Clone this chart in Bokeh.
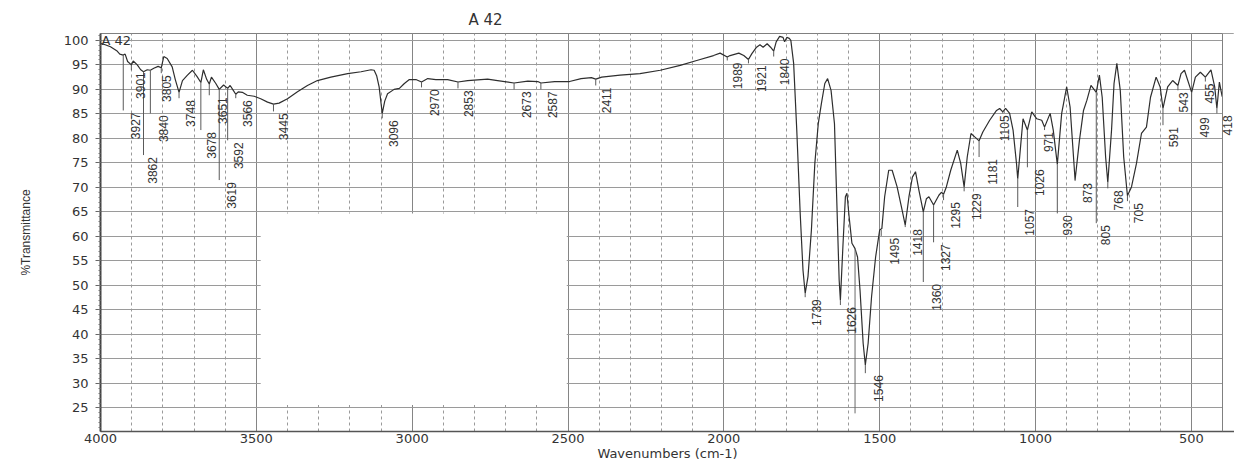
from math import pi
from bokeh.plotting import figure
from bokeh.models import (ColumnDataSource, LabelSet, Label, Range1d, Span,
                          SingleIntervalTicker)
from bokeh.core.properties import value, field
from bokeh.embed import file_html
from bokeh.resources import INLINE

# ---------------- data ----------------
wavenumber = [
    4000, 3985, 3968, 3948, 3938, 3927, 3921, 3913, 3901, 3895, 3882, 3871,
    3862, 3850, 3840, 3829, 3815, 3805, 3797, 3786, 3770, 3760, 3748, 3737,
    3721, 3705, 3690, 3678, 3670, 3659, 3651, 3644, 3630, 3619, 3605, 3592,
    3584, 3575, 3566, 3558, 3545, 3529, 3507, 3486, 3464, 3445, 3427, 3400,
    3368, 3336, 3304, 3261, 3207, 3164, 3132, 3122, 3114, 3106, 3096, 3088,
    3079, 3058, 3041, 3025, 3009, 2988, 2970, 2950, 2924, 2886, 2853, 2822,
    2758, 2726, 2673, 2629, 2597, 2587, 2543, 2495, 2458, 2425, 2411, 2392,
    2333, 2269, 2204, 2140, 2087, 2033, 2012, 1989, 1980, 1952, 1936, 1921,
    1910, 1895, 1884, 1874, 1861, 1850, 1840, 1832, 1821, 1810, 1805, 1798,
    1790, 1785, 1776, 1766, 1755, 1746, 1739, 1730, 1719, 1708, 1697, 1687,
    1676, 1667, 1656, 1645, 1638, 1630, 1626, 1618, 1610, 1605, 1598, 1589,
    1579, 1571, 1563, 1553, 1546, 1537, 1526, 1513, 1500, 1493, 1484, 1471,
    1460, 1444, 1430, 1418, 1406, 1395, 1385, 1374, 1360, 1350, 1342, 1327,
    1310, 1302, 1295, 1286, 1272, 1251, 1240, 1229, 1219, 1207, 1195, 1181,
    1169, 1147, 1125, 1115, 1105, 1096, 1083, 1072, 1061, 1057, 1040, 1026,
    1012, 996, 980, 971, 953, 943, 930, 916, 900, 889, 873, 859, 846, 835,
    822, 805, 795, 786, 775, 768, 756, 748, 739, 728, 717, 705, 692, 676,
    660, 644, 631, 613, 600, 591, 576, 560, 543, 533, 522, 499, 487, 471,
    455, 437, 425, 418, 410, 404, 401,
]
transmittance = [
    99.4, 99.1, 98.7, 97.9, 97.2, 97.0, 97.2, 95.7, 95.0, 95.8, 95.0, 94.0,
    93.6, 94.0, 93.9, 94.3, 94.7, 94.4, 96.7, 96.3, 94.6, 92.0, 89.4, 91.8,
    92.9, 93.9, 92.6, 91.4, 94.0, 92.0, 91.1, 92.5, 91.2, 90.0, 90.9, 90.2,
    90.8, 89.9, 89.0, 89.5, 89.4, 88.8, 88.6, 88.1, 87.4, 87.0, 87.2, 88.1,
    89.5, 90.8, 91.8, 92.5, 93.2, 93.6, 94.0, 93.9, 92.8, 90.5, 85.1, 87.6,
    89.1, 90.0, 90.2, 91.2, 92.0, 92.0, 91.5, 92.2, 92.0, 92.0, 91.5, 91.8,
    92.1, 91.8, 91.3, 91.7, 91.6, 91.3, 91.6, 91.6, 92.2, 92.4, 92.1, 92.5,
    92.9, 93.2, 93.9, 94.9, 95.9, 96.9, 97.4, 96.6, 96.9, 97.4, 96.9, 96.1,
    97.3, 98.6, 99.1, 98.6, 99.3, 98.6, 97.8, 99.7, 100.8, 100.6, 99.7, 100.6,
    100.4, 100.0, 95.3, 81.7, 64.7, 53.1, 48.4, 51.8, 61.3, 74.9, 83.0, 87.1,
    91.2, 92.2, 89.8, 83.0, 68.1, 51.1, 47.0, 57.9, 68.1, 68.8, 64.0, 58.6,
    57.5, 55.8, 49.0, 38.2, 33.8, 38.2, 47.7, 55.8, 61.3, 61.6, 68.1, 73.5,
    73.5, 70.1, 66.0, 62.3, 68.1, 72.1, 73.2, 69.4, 65.0, 67.7, 68.1, 66.4,
    68.4, 69.0, 68.6, 70.1, 73.5, 77.6, 74.9, 70.1, 76.2, 81.0, 80.3, 79.5,
    81.3, 83.7, 85.7, 86.1, 85.4, 86.1, 85.1, 81.7, 74.9, 71.8, 84.0, 81.7,
    85.4, 84.0, 83.7, 82.3, 85.1, 81.7, 74.7, 85.1, 90.5, 86.4, 71.5, 79.6,
    85.7, 87.8, 90.8, 89.4, 92.9, 88.4, 76.2, 71.0, 81.7, 91.2, 95.3, 89.8,
    76.2, 68.3, 70.1, 74.9, 81.0, 82.3, 88.4, 92.5, 90.5, 86.1, 90.5, 91.8,
    90.8, 93.2, 93.9, 89.4, 92.5, 93.5, 92.5, 94.0, 90.5, 86.1, 91.5, 89.5,
    88.5,
]

# peak annotations: position, %T where the leader starts, %T where it ends
peak_wn = [3927, 3901, 3862, 3840, 3805, 3748, 3678, 3651, 3619, 3592, 3566,
           3445, 3096, 2970, 2853, 2673, 2587, 2411, 1989, 1921, 1840, 1739,
           1626, 1546, 1495, 1418, 1360, 1327, 1295, 1229, 1181, 1105, 1057,
           1026, 971, 930, 873, 805, 768, 705, 591, 543, 499, 455, 418]
peak_top = [97.0, 95.0, 93.6, 93.9, 94.4, 89.4, 91.4, 91.1, 90.0, 90.2, 89.0,
            87.0, 85.1, 91.5, 91.5, 91.3, 91.3, 92.1, 96.6, 96.1, 97.8, 48.4,
            47.0, 33.8, 61.3, 62.3, 65.0, 66.4, 68.6, 70.1, 79.5, 85.4, 71.8,
            81.7, 82.3, 74.7, 71.5, 89.4, 71.0, 68.3, 86.1, 90.8, 89.4, 92.5,
            86.1]
peak_end = [85.7, 93.9, 76.6, 85.1, 93.3, 88.2, 81.7, 88.8, 71.5, 79.6, 88.2,
            85.5, 84.1, 90.4, 90.2, 90.0, 90.0, 90.8, 95.9, 95.3, 96.7, 47.6,
            46.0, 32.1, 60.1, 61.9, 50.7, 58.8, 67.4, 69.2, 76.2, 85.1, 66.0,
            74.1, 81.7, 64.7, 71.3, 62.7, 69.8, 67.2, 82.7, 89.8, 84.7, 91.6,
            85.1]
peak_text = [str(v) for v in peak_wn]
# horizontal pixel shift of each printed number from its leader
label_shift = [12, 9, 9, 13, 5, 11, 11, 13, 12, 11, 12,
               10, 11, 13, 11, 12, 12, 11, 10, 13, 11, 11,
               11, 13, 13, 12, 13, 12, 12, 12, 13, 2, 12,
               12, 4, 10, 12, 9, 11, 11, 11, 6, 13, 4, 11]

# a leader printed without its number
bare_leader_wn = [1579]
bare_leader_top = [57.5]
bare_leader_end = [23.9]

# blank (erased) patch of the scanned grid
blank_left = [3486]
blank_right = [2504]
blank_bottom = [25.6]
blank_top = [64.7]

X_START, X_END = 4000, 400
X_VIEW_END = 361.5          # frame continues a little past 400 (label room)
Y_MIN, Y_MAX = 20.2, 101.4
title_text = "A 42"
sample_text = "A 42"
x_title = "Wavenumbers (cm-1)"
y_title = "%Transmittance"

GRID = "#9a9a9a"
INK = "#333333"

p = figure(width=1234, height=463, output_backend="svg", toolbar_location=None,
           x_range=Range1d(X_START, X_VIEW_END), y_range=Range1d(Y_MIN, Y_MAX),
           min_border_left=100, min_border_right=0, min_border_top=33,
           min_border_bottom=31, background_fill_color="white",
           border_fill_color="white")
p.outline_line_color = "#808080"
p.outline_line_width = 1

# title (placed off-centre as in the scan)
p.title.text = title_text
p.title.align = "left"
p.title.offset = 368
p.title.text_font = "DejaVu Sans"
p.title.text_font_style = "normal"
p.title.text_font_size = "15px"
p.title.text_color = INK
p.title.standoff = 10

# axes
p.xaxis.ticker = SingleIntervalTicker(interval=500, num_minor_ticks=5)
p.yaxis.ticker = SingleIntervalTicker(interval=5, num_minor_ticks=5)
for ax in (p.xaxis, p.yaxis):
    ax.major_label_text_font = "DejaVu Sans"
    ax.major_label_text_font_size = "13px"
    ax.major_label_text_color = INK
    ax.major_tick_line_color = "#666666"
    ax.minor_tick_line_color = "#777777"
p.xaxis.axis_line_color = "#555555"
p.xaxis.axis_line_width = 1.5
p.xaxis.major_tick_out = 0
p.xaxis.major_tick_in = 0
p.xaxis.minor_tick_out = 0
p.xaxis.minor_tick_in = 0
p.xaxis.major_label_standoff = 2
p.xaxis.axis_label = x_title
p.xaxis.axis_label_text_font = "DejaVu Sans"
p.xaxis.axis_label_text_font_style = "normal"
p.xaxis.axis_label_text_font_size = "13px"
p.xaxis.axis_label_text_color = INK
p.xaxis.axis_label_standoff = 0

p.yaxis.axis_line_color = "#444444"
p.yaxis.axis_line_width = 2
p.yaxis.major_tick_out = 5
p.yaxis.major_tick_in = 0
p.yaxis.minor_tick_out = 2
p.yaxis.minor_tick_in = 0
p.yaxis.major_label_standoff = 7
p.yaxis.axis_label = y_title
p.yaxis.axis_label_text_font = "Liberation Sans"
p.yaxis.axis_label_text_font_style = "normal"
p.yaxis.axis_label_text_font_size = "12px"
p.yaxis.axis_label_text_color = INK
p.yaxis.axis_label_standoff = 28

# grid
p.xgrid.grid_line_color = "#858585"
p.xgrid.grid_line_width = 1
p.xgrid.minor_grid_line_color = GRID
p.xgrid.minor_grid_line_dash = "3 3"
p.ygrid.grid_line_color = GRID
p.ygrid.grid_line_width = 1

# erased patch of the grid, and the margin right of 400 cm-1
p.quad(left=blank_left, right=blank_right, bottom=blank_bottom, top=blank_top,
       fill_color="white", line_color=None)
p.quad(left=[X_END], right=[X_VIEW_END], bottom=[Y_MIN], top=[Y_MAX],
       fill_color="white", line_color=None)
p.add_layout(Span(location=X_END, dimension="height", line_color="#808080",
                  line_width=1))

# spectrum
p.line(wavenumber, transmittance, line_color="#2e2e2e", line_width=1.2)

# leaders and peak labels
src = ColumnDataSource(dict(x=peak_wn, y0=peak_top, y1=peak_end, t=peak_text,
                            dx=label_shift))
p.segment(x0="x", y0="y0", x1="x", y1="y1", source=src,
          line_color="#5a5a5a", line_width=1)
p.segment(x0=bare_leader_wn, y0=bare_leader_top, x1=bare_leader_wn,
          y1=bare_leader_end, line_color="#6a6a6a", line_width=1)
labels = LabelSet(x="x", y="y1", text="t", source=src, angle=pi / 2,
                  text_align="right", text_baseline="middle",
                  x_offset=field("dx"), y_offset=-2,
                  text_font=value("Liberation Sans"),
                  text_font_size=value("12px"), text_color=INK)
p.add_layout(labels)

# sample name inside the frame
p.add_layout(Label(x=X_START, y=Y_MAX - 1.4, text=sample_text, x_offset=1,
                   text_align="left", text_baseline="middle",
                   text_font="DejaVu Sans", text_font_size="13px",
                   text_color=INK))

open("out.html", "w").write(file_html(p, INLINE))
